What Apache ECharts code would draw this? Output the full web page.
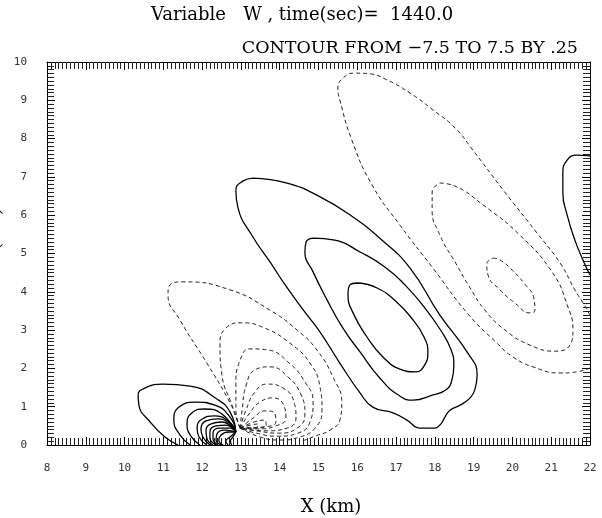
<!DOCTYPE html>
<html><head><meta charset="utf-8">
<script src="https://cdn.jsdelivr.net/npm/echarts@6/dist/echarts.min.js"></script>
<style>html,body{margin:0;padding:0;background:#fff}#c{width:602px;height:518px}</style>
</head><body><div id="c"></div>
<script>
// ---- contour lines, [x km, z km] ----
// positive (solid) contours
const posBigOuter = [[13.31,6.97],[14.19,6.84],[15.04,6.48],[15.81,6.01],[16.58,5.40],[17.36,4.62],[18.13,3.39],[18.83,2.43],[19.09,1.83],[19.03,1.44],[18.91,1.23],[18.65,1.04],[18.39,0.91],[18.26,0.73],[18.13,0.52],[17.95,0.44],[17.62,0.44],[17.28,0.65],[16.92,0.84],[16.40,0.99],[16.07,1.36],[15.55,2.14],[15.04,2.95],[14.65,3.47],[14.14,4.18],[13.75,4.78],[13.31,5.43],[12.92,6.21],[12.87,6.66],[13.05,6.89],[13.31,6.97]];
const posBigMiddle = [[14.86,5.40],[15.42,5.35],[16.07,5.04],[16.71,4.65],[17.23,4.18],[17.74,3.58],[18.18,2.95],[18.42,2.48],[18.49,2.09],[18.44,1.70],[18.29,1.44],[17.95,1.31],[17.44,1.17],[17.05,1.31],[16.58,1.75],[16.07,2.43],[15.63,3.05],[15.22,3.79],[14.86,4.52],[14.65,5.04],[14.68,5.30],[14.86,5.40]];
const posBigInner = [[16.02,4.23],[16.51,4.10],[17.02,3.73],[17.44,3.26],[17.72,2.82],[17.82,2.43],[17.74,2.09],[17.49,1.91],[17.10,1.98],[16.66,2.30],[16.25,2.82],[15.89,3.45],[15.76,3.92],[15.81,4.18],[16.02,4.23]];
const posRightEdge = [[22.00,7.55],[21.66,7.57],[21.41,7.44],[21.30,7.10],[21.30,6.58],[21.41,6.01],[21.61,5.35],[21.84,4.78],[22.00,4.44]];
const posLow1 = [[11.38,0.00],[11.04,0.21],[10.66,0.60],[10.37,1.04],[10.35,1.31],[10.53,1.49],[10.99,1.59],[11.69,1.54],[12.38,1.20],[12.72,0.86],[12.87,0.34]];
const posLow2 = [[11.69,0.00],[11.43,0.26],[11.27,0.65],[11.38,0.97],[11.82,1.12],[12.33,1.04],[12.72,0.73],[12.87,0.34]];
const posLow3 = [[11.94,0.00],[11.71,0.23],[11.61,0.55],[11.74,0.84],[12.07,0.94],[12.51,0.81],[12.87,0.34]];
const posLow4 = [[12.12,0.00],[11.92,0.21],[11.87,0.44],[12.00,0.68],[12.31,0.76],[12.67,0.63],[12.87,0.34]];
const posLow5 = [[12.20,0.00],[12.02,0.21],[11.97,0.42],[12.10,0.63],[12.41,0.68],[12.72,0.55],[12.87,0.34]];
const posLow6 = [[12.28,0.00],[12.12,0.18],[12.10,0.39],[12.23,0.55],[12.51,0.60],[12.87,0.34]];
const posLow7 = [[12.36,0.00],[12.20,0.18],[12.20,0.34],[12.36,0.50],[12.61,0.52],[12.87,0.34]];
const posLow8 = [[12.41,0.00],[12.28,0.16],[12.28,0.31],[12.46,0.44],[12.72,0.44],[12.87,0.34]];
const posLow9 = [[12.49,0.00],[12.36,0.13],[12.38,0.29],[12.59,0.39],[12.87,0.34]];
const posLow10 = [[12.54,0.00],[12.43,0.13],[12.49,0.26],[12.69,0.34],[12.87,0.34]];
const posLow11 = [[12.67,0.00],[12.61,0.10],[12.72,0.21],[12.87,0.34]];
const posLow12 = [[12.76,0.00],[12.73,0.10],[12.80,0.22],[12.87,0.34]];
// negative (dashed) contours
const negTopOuter = [[22.00,2.01],[21.66,1.91],[21.23,1.88],[20.53,2.04],[20.01,2.30],[19.60,2.66],[18.83,3.45],[17.95,4.62],[17.10,5.74],[16.38,6.79],[15.86,7.96],[15.55,9.01],[15.50,9.32],[15.63,9.58],[15.94,9.71],[16.33,9.69],[16.77,9.53],[17.36,9.19],[17.95,8.75],[18.52,8.28],[18.98,7.70],[19.76,6.66],[20.63,5.54],[21.23,4.75],[21.61,4.05],[21.82,3.71],[22.00,3.39]];
const negTopMiddle = [[18.13,6.84],[18.52,6.76],[19.24,6.27],[20.19,5.48],[21.04,4.49],[21.41,3.66],[21.56,3.00],[21.48,2.61],[21.10,2.45],[20.45,2.61],[19.81,3.00],[19.29,3.52],[18.91,4.10],[18.52,4.78],[18.13,5.48],[17.93,6.14],[17.93,6.61],[18.13,6.84]];
const negTopInner = [[19.50,4.88],[19.68,4.83],[19.94,4.62],[20.32,4.20],[20.55,3.84],[20.58,3.52],[20.45,3.45],[20.06,3.71],[19.68,4.05],[19.37,4.44],[19.34,4.73],[19.50,4.88]];
const negLow1 = [[12.98,0.44],[12.90,0.65],[12.72,1.10],[12.12,2.14],[11.43,3.26],[11.12,3.92],[11.17,4.18],[11.51,4.26],[12.72,4.05],[13.75,3.52],[14.45,3.00],[14.96,2.48],[15.37,1.78],[15.60,1.10],[15.55,0.65],[15.30,0.39],[14.91,0.23],[14.52,0.08]];
const negLow2 = [[12.98,0.44],[12.77,1.04],[12.51,1.83],[12.46,2.61],[12.61,3.05],[13.03,3.19],[13.62,3.05],[14.26,2.66],[14.78,2.14],[15.04,1.51],[15.09,0.91],[14.91,0.44],[14.52,0.21],[14.01,0.13],[13.49,0.21],[12.98,0.44]];
const negLow3 = [[12.98,0.44],[12.87,0.91],[12.87,1.57],[12.98,2.22],[13.23,2.51],[13.70,2.48],[14.21,2.17],[14.65,1.65],[14.86,1.12],[14.78,0.60],[14.47,0.31],[13.96,0.23],[13.39,0.31],[12.98,0.44]];
const negLow4 = [[12.98,0.44],[13.03,0.91],[13.13,1.54],[13.36,1.96],[13.75,2.04],[14.21,1.78],[14.55,1.31],[14.65,0.81],[14.45,0.44],[13.96,0.31],[13.39,0.37],[12.98,0.44]];
const negLow5 = [[12.98,0.44],[13.13,0.91],[13.36,1.38],[13.67,1.59],[14.08,1.49],[14.37,1.12],[14.42,0.70],[14.19,0.44],[13.62,0.37],[12.98,0.44]];
const negLow6 = [[12.98,0.44],[13.23,0.84],[13.49,1.12],[13.83,1.23],[14.11,1.02],[14.16,0.70],[13.90,0.50],[13.44,0.42],[12.98,0.44]];
const negLow7 = [[12.98,0.44],[13.31,0.70],[13.62,0.89],[13.88,0.81],[13.90,0.60],[13.54,0.47],[12.98,0.44]];
const negLow8 = [[12.98,0.44],[13.34,0.60],[13.62,0.65],[13.65,0.50],[13.23,0.44],[12.98,0.44]];
const negLow9 = [[12.98,0.44],[13.25,0.52],[13.45,0.55],[13.40,0.46],[12.98,0.44]];

const positiveLines = [posBigOuter,posBigMiddle,posBigInner,posRightEdge,posLow1,posLow2,posLow3,posLow4,posLow5,posLow6,posLow7,posLow8,posLow9,posLow10,posLow11,posLow12];
const negativeLines = [negTopOuter,negTopMiddle,negTopInner,negLow1,negLow2,negLow3,negLow4,negLow5,negLow6,negLow7,negLow8,negLow9];

const xRange = [8, 22];
const zRange = [0, 10];
const titleText = 'Variable   W , time(sec)=  1440.0';
const subtitleText = 'CONTOUR FROM \u22127.5 TO 7.5 BY .25';
const xName = 'X (km)';
const zName = 'Z (km)';

const chart = echarts.init(document.getElementById('c'), null, {renderer:'canvas'});
const tickFont = {fontFamily:'DejaVu Sans Mono', fontSize:11, color:'#333'};
function frameAxis(pos, range, isX, showLabel){
  return {
    type:'value', position:pos, min:range[0], max:range[1], interval:1,
    axisLine:{show:true, onZero:false, lineStyle:{color:'#000', width:1}},
    axisTick:{show:true, inside:true, length:8, lineStyle:{color:'#000', width:1}},
    minorTick:{show:true, splitNumber:10, length:7, lineStyle:{color:'#222', width:1}},
    splitLine:{show:false},
    axisLabel:Object.assign({show:showLabel, margin: isX?18:20}, tickFont)
  };
}
const series = [];
positiveLines.forEach((d,i)=>series.push({type:'line', name:'pos'+i, data:d, showSymbol:false, smooth:0.5, clip:true,
  lineStyle:{color:'#000', width:1.3, type:'solid'}, silent:true}));
negativeLines.forEach((d,i)=>series.push({type:'line', name:'neg'+i, data:d, showSymbol:false, smooth:0.5, clip:true,
  lineStyle:{color:'#222', width:1, type:[4,3]}, silent:true}));

chart.setOption({
  animation:false,
  backgroundColor:'#fff',
  grid:{left:47, top:62, width:543, height:383, containLabel:false},
  xAxis:[frameAxis('bottom', xRange, true, true), frameAxis('top', xRange, true, false)],
  yAxis:[frameAxis('left', zRange, false, true), frameAxis('right', zRange, false, false)],
  series: series,
  graphic:[
    {type:'text', x:302, y:15, style:{text:titleText, font:'18px "DejaVu Serif"', fill:'#000', align:'center', verticalAlign:'middle'}},
    {type:'text', x:578, y:48, style:{text:subtitleText, font:'17.5px "DejaVu Serif"', fill:'#000', align:'right', verticalAlign:'middle'}},
    {type:'text', x:331, y:507, style:{text:xName, font:'18px "DejaVu Serif"', fill:'#000', align:'center', verticalAlign:'middle'}},
    {type:'text', x:4, y:238, rotation:Math.PI/2, style:{text:zName, font:'18px "DejaVu Serif"', fill:'#000', align:'center', verticalAlign:'bottom'}}
  ]
});
</script></body></html>
